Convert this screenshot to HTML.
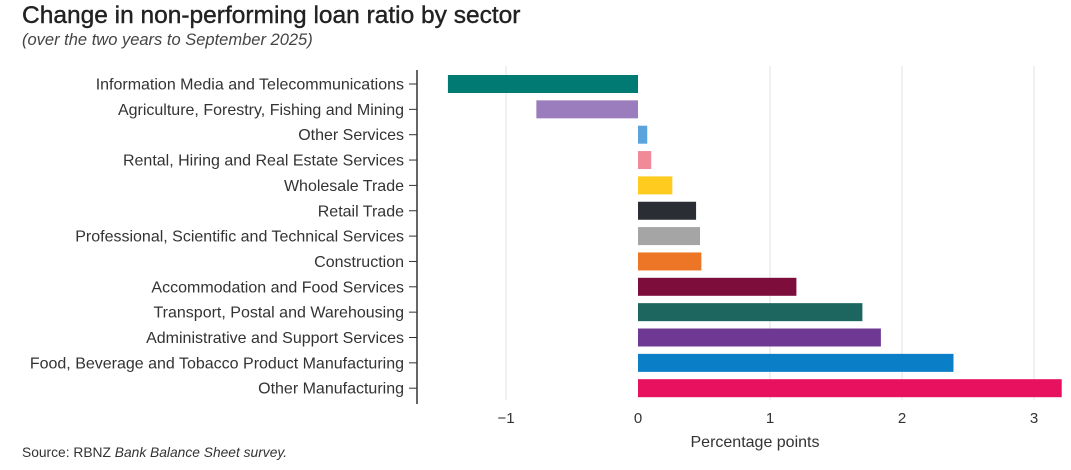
<!DOCTYPE html>
<html><head><meta charset="utf-8"><style>
body{margin:0;background:#fff;font-family:"Liberation Sans",sans-serif;}
#wrap{position:relative;width:1071px;height:470px;overflow:hidden;}
.title{position:absolute;left:22px;top:2px;font-size:24.5px;color:#222;-webkit-text-stroke:0.4px #222;}
.sub{position:absolute;left:22px;top:31px;font-size:16.5px;font-style:italic;color:#444;}
.src{position:absolute;left:22px;top:445px;font-size:13.8px;color:#333;}
</style></head><body>
<div id="wrap">
<div class="title">Change in non-performing loan ratio by sector</div>
<div class="sub">(over the two years to September 2025)</div>
<svg id="svg" width="1071" height="470" style="position:absolute;left:0;top:0"></svg>
<div class="src">Source: RBNZ <i>Bank Balance Sheet survey.</i></div>
</div>
<script>
const categories=["Information Media and Telecommunications","Agriculture, Forestry, Fishing and Mining","Other Services","Rental, Hiring and Real Estate Services","Wholesale Trade","Retail Trade","Professional, Scientific and Technical Services","Construction","Accommodation and Food Services","Transport, Postal and Warehousing","Administrative and Support Services","Food, Beverage and Tobacco Product Manufacturing","Other Manufacturing"];
const values=[-1.44,-0.77,0.07,0.1,0.26,0.44,0.47,0.48,1.2,1.7,1.84,2.39,3.21];
const colors=["#007a73","#9b7cbd","#5aa3dd","#f08a99","#fecb1e","#2b2d34","#a5a5a5","#ec7625","#7d0d3b","#1d6660","#6f3893","#0a7ec6","#e8115f"];
const ticks=[-1,0,1,2,3];
const NS="http://www.w3.org/2000/svg";
const svg=document.getElementById('svg');
const x=v=>638+v*132;
const y=i=>84+i*25.35;
function mk(t,a){const e=document.createElementNS(NS,t);for(const k in a)e.setAttribute(k,a[k]);svg.appendChild(e);return e;}
ticks.forEach(t=>{
 if(t!==0){const g=mk('line',{x1:x(t),x2:x(t),y1:66,y2:400,stroke:'#e2e2e2','stroke-width':1});
 
 }
 const l=mk('text',{x:x(t),y:423,'text-anchor':'middle','font-size':15,fill:'#333','font-family':'Liberation Sans'});
 l.textContent=t<0?'\u2212'+Math.abs(t):String(t);
 
 
});
const ax=mk('line',{x1:417,x2:417,y1:70,y2:404,stroke:'#333','stroke-width':1.5});


categories.forEach((c,i)=>{
 const v=values[i];
 const r=mk('rect',{x:Math.min(x(0),x(v)),y:y(i)-9,width:Math.abs(x(v)-x(0)),height:18,fill:colors[i]});
 
 
 const tk=mk('line',{x1:409,x2:417,y1:y(i),y2:y(i),stroke:'#333','stroke-width':1});
 
 
 const t=mk('text',{x:404,y:y(i)+5.5,'text-anchor':'end','font-size':16,fill:'#333','font-family':'Liberation Sans'});
 t.textContent=c;
 
 
});
const at=mk('text',{x:755,y:447,'text-anchor':'middle','font-size':16,fill:'#333','font-family':'Liberation Sans'});
at.textContent='Percentage points';


</script>
</body></html>
